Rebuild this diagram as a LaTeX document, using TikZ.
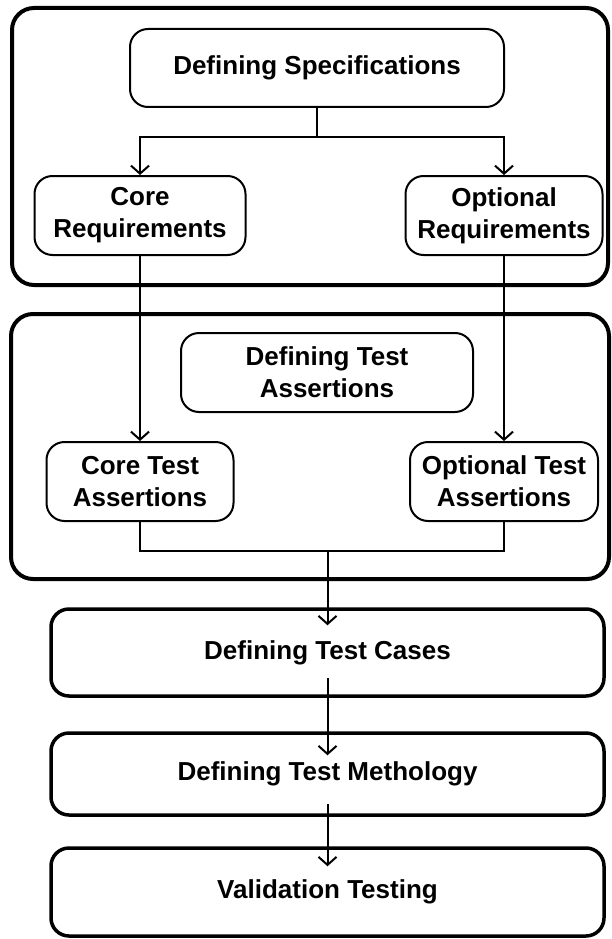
\documentclass[tikz,border=0pt]{standalone}
\usepackage{fontspec}
\setmainfont{Liberation Sans}
\usetikzlibrary{arrows.meta}
\tikzset{>={Straight Barb[length=8pt,width=18pt]}}
\tikzset{
  box/.style={draw, line width=2pt, rounded corners=18pt, align=center,
    inner sep=0pt, font=\bfseries\fontsize{26}{32}\selectfont},
  widebox/.style={box, line width=3.5pt, minimum width=553pt},
  group/.style={line width=4pt, rounded corners=22pt},
  link/.style={line width=2pt}
}

\begin{document}
\begin{tikzpicture}[x=1pt,y=-1pt]
  \useasboundingbox (0,0) rectangle (611,939);
  % the two groups
  \draw[group] (12,8) rectangle (608,285);
  \draw[group] (11,314) rectangle (609,579);
  % specifications
  \node[box, minimum width=374pt, minimum height=78pt] (spec) at (317,68) {Defining Specifications};
  \node[box, minimum width=211pt, minimum height=79pt] (coreReq) at (140,215.5) {Core\\Requirements};
  \node[box, minimum width=197pt, minimum height=79pt] (optReq) at (504,215.5) {Optional\\Requirements};
  % assertions
  \node[box, minimum width=292pt, minimum height=79pt] (defTA) at (327,372.5) {Defining Test\\Assertions};
  \node[box, minimum width=187pt, minimum height=79pt] (coreTA) at (140,481.5) {Core Test\\Assertions};
  \node[box, minimum width=188pt, minimum height=79pt] (optTA) at (504,481.5) {Optional Test\\Assertions};
  % lower steps
  \node[widebox, minimum height=87pt] (cases) at (327.5,652.5) {Defining Test Cases};
  \node[widebox, minimum height=82pt] (method) at (327.5,774) {Defining Test Methology};
  \node[widebox, minimum height=88pt] (valid) at (327.5,892) {Validation Testing};
  % connectors
  \draw[link, ->] (spec.south) -- ++(0,29) coordinate (split) -| (coreReq.north);
  \draw[link, ->] (split) -| (optReq.north);
  \draw[link, ->] (coreReq.south) -- (coreTA.north);
  \draw[link, ->] (optReq.south) -- (optTA.north);
  \draw[link] (coreTA.south) -- ++(0,29) -| (optTA.south);
  \coordinate (join) at (327.5,550);
  \draw[link, ->, shorten >=-18pt] (join) -- (cases.north);
  \draw[link, ->, shorten <=-20pt, shorten >=-24pt] (cases.south) -- (method.north);
  \draw[link, ->, shorten <=-13pt, shorten >=-20pt] (method.south) -- (valid.north);
\end{tikzpicture}
\end{document}
